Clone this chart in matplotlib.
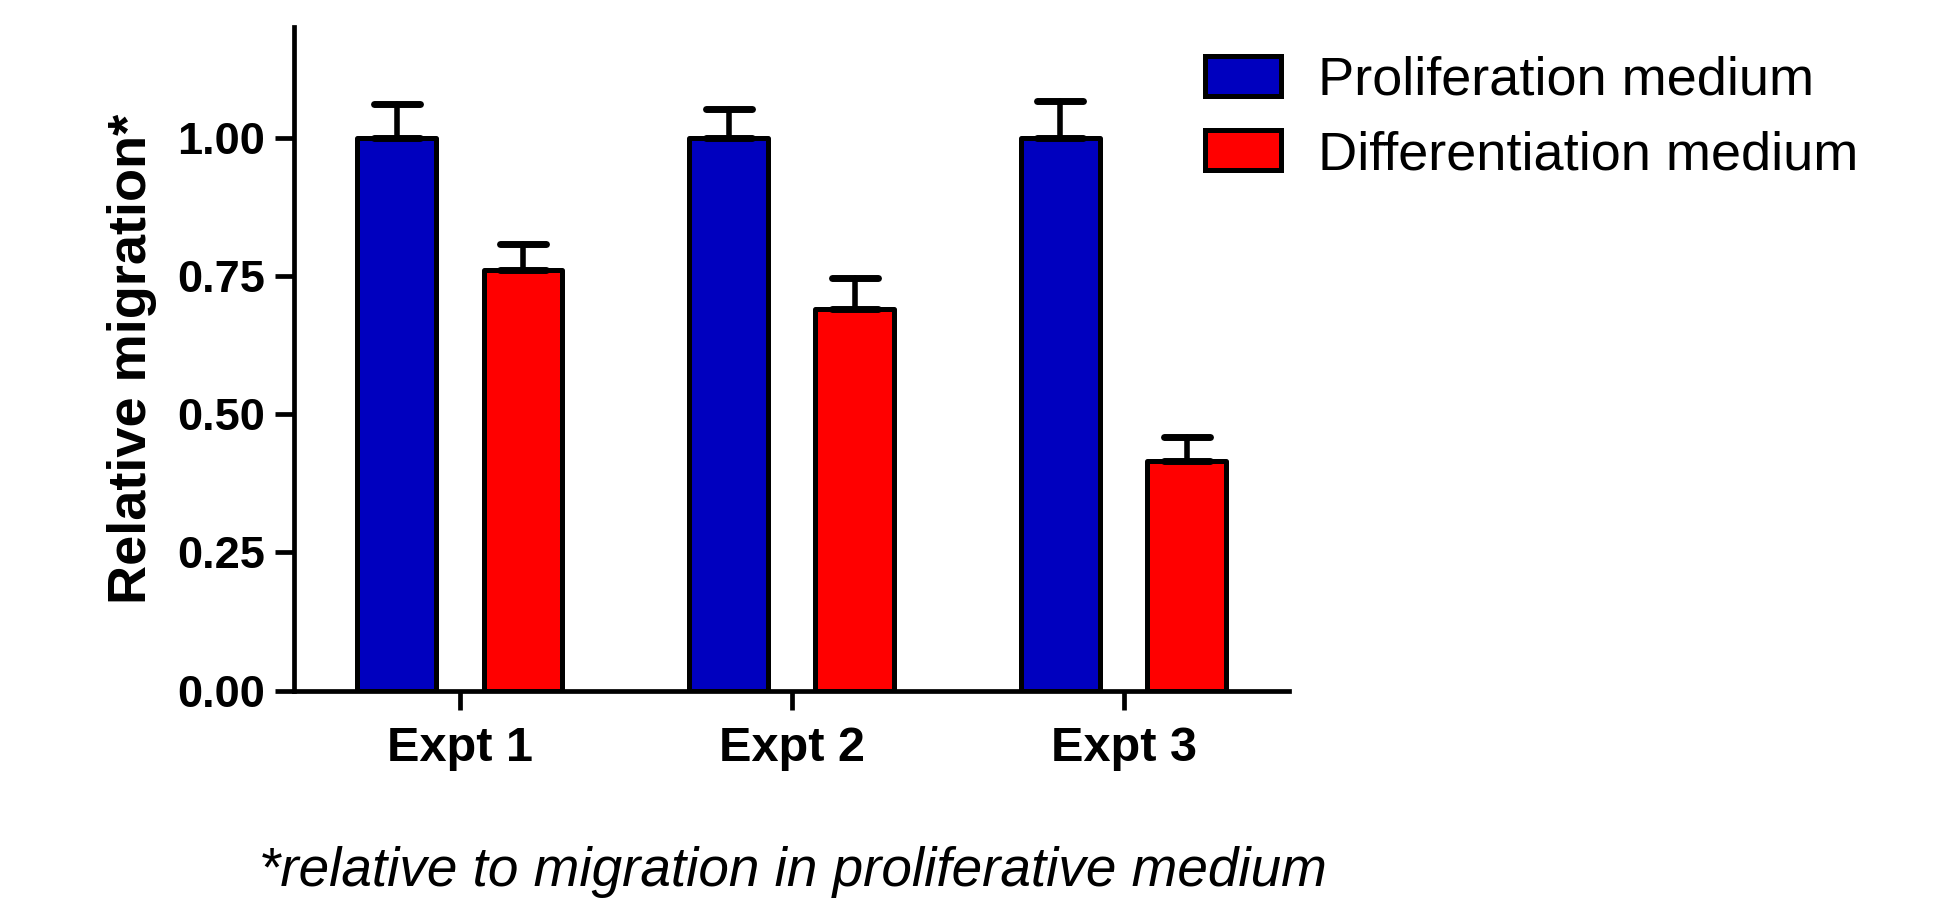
import numpy as np
import matplotlib
matplotlib.use("Agg")
import matplotlib.pyplot as plt
from matplotlib.markers import MarkerStyle

# data
experiments = ["Expt 1", "Expt 2", "Expt 3"]
prolif = [1.0, 1.0, 1.0]
prolif_err = [0.062, 0.052, 0.066]
diff = [0.76, 0.69, 0.416]
diff_err = [0.048, 0.056, 0.043]
series_names = ["Proliferation medium", "Differentiation medium"]
yticks = [0.0, 0.25, 0.50, 0.75, 1.00]

plt.rcParams['font.family'] = ['Liberation Sans', 'DejaVu Sans']

blue = '#0000BF'
red = '#FF0000'
lw = 3.6

fig = plt.figure(figsize=(19.44, 8.99), dpi=100)
ax = fig.add_axes([0.1511, 0.2318, 0.6633 - 0.1511, 0.9697 - 0.2318])

x = np.arange(1, len(experiments) + 1)
off = 0.19
w = 0.236

b1 = ax.bar(x - off, prolif, w, color=blue, edgecolor='black', linewidth=lw,
            joinstyle='round', label=series_names[0], zorder=2)
b2 = ax.bar(x + off, diff, w, color=red, edgecolor='black', linewidth=lw,
            joinstyle='round', label=series_names[1], zorder=2)

for xs, ys, es in [(x - off, prolif, prolif_err), (x + off, diff, diff_err)]:
    _, caps, lines = ax.errorbar(xs, ys, yerr=[np.zeros(len(es)), es], fmt='none',
                                 ecolor='black', elinewidth=4.0, capsize=16.5,
                                 capthick=5.0, zorder=3)
    for c in caps:
        c.set_marker(MarkerStyle('_', capstyle='round'))
    for l in lines:
        l.set_capstyle('round')

ax.set_xlim(0.5, 3.5)
ax.set_ylim(0, 1.2)
ax.set_yticks(yticks)
ax.set_yticklabels(["%.2f" % v for v in yticks])
ax.set_xticks(x)
ax.set_xticklabels(experiments)

ax.spines['top'].set_visible(False)
ax.spines['right'].set_visible(False)
ax.spines['left'].set_linewidth(3.4)
ax.spines['bottom'].set_linewidth(3.4)

ax.tick_params(axis='y', length=13.4, width=3.4, pad=7, labelsize=32.5)
ax.tick_params(axis='x', length=13.4, width=3.4, pad=12, labelsize=35)
for t in ax.get_yticklabels() + ax.get_xticklabels():
    t.set_fontweight('bold')

ax.set_ylabel("Relative migration*", fontsize=39, fontweight='bold', labelpad=15)

leg = fig.legend(handles=[b1, b2], labels=series_names, loc='upper left',
                 bbox_to_anchor=(0.62, 0.938), frameon=False, fontsize=39,
                 handlelength=1.39, handleheight=0.76, handletextpad=0.7,
                 labelspacing=0.45, borderpad=0, borderaxespad=0)

fig.text(793 / 1944, 1 - 872 / 899, "*relative to migration in proliferative medium",
         fontsize=39.5, style='italic', ha='center', va='center')

fig.savefig("out.png", dpi=100)
